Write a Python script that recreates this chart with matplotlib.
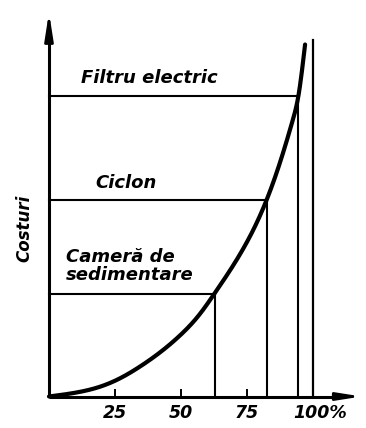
import numpy as np
import matplotlib.pyplot as plt

plt.rcParams['font.family'] = ['Liberation Sans Narrow', 'DejaVu Sans']

# efficiency (%) vs cost curve
efficiency = [0, 10, 19, 26, 34.5, 42, 50, 57, 62.7, 72.3, 82.5, 87.5, 92.4, 94.5, 97]
cost = [0, 3.8, 9.5, 17, 30, 44, 62, 82, 103, 142, 197, 234, 277, 301, 352]

# separators: name, efficiency reached, cost level
separators = ['Cameră de\nsedimentare', 'Ciclon', 'Filtru electric']
sep_efficiency = [62.7, 82.5, 94.5]
sep_cost = [103, 197, 301]

ticks = [25, 50, 75, 100]
tick_labels = ['25', '50', '75', '100%']


def spline(x, y, xs):
    # natural cubic spline
    x = np.asarray(x, float)
    y = np.asarray(y, float)
    n = len(x)
    h = np.diff(x)
    A = np.zeros((n, n))
    b = np.zeros(n)
    A[0, 0] = A[-1, -1] = 1
    for k in range(1, n - 1):
        A[k, k - 1] = h[k - 1]
        A[k, k] = 2 * (h[k - 1] + h[k])
        A[k, k + 1] = h[k]
        b[k] = 6 * ((y[k + 1] - y[k]) / h[k] - (y[k] - y[k - 1]) / h[k - 1])
    M = np.linalg.solve(A, b)
    i = np.clip(np.searchsorted(x, xs) - 1, 0, n - 2)
    a = x[i + 1] - xs
    c = xs - x[i]
    return (M[i] * a**3 / (6 * h[i]) + M[i + 1] * c**3 / (6 * h[i])
            + (y[i] / h[i] - M[i] * h[i] / 6) * a
            + (y[i + 1] / h[i] - M[i + 1] * h[i] / 6) * c)


fig = plt.figure(figsize=(3.66, 4.28), dpi=100)
ax = fig.add_axes([0, 0, 1, 1])
ax.set_xlim(-18.56, 120.08)
ax.set_ylim(-31.5, 396.5)
ax.axis('off')

# axes with arrows
ax.plot([0, 0], [0, 362], color='black', lw=2.2, solid_capstyle='butt')
ax.annotate('', xy=(0, 387), xytext=(0, 358),
            arrowprops=dict(arrowstyle='-|>,head_length=1.6,head_width=0.25',
                            color='black', lw=2))
ax.plot([0, 110], [0, 0], color='black', lw=2.2, solid_capstyle='butt')
ax.annotate('', xy=(119.5, 0), xytext=(107, 0),
            arrowprops=dict(arrowstyle='-|>,head_length=1.4,head_width=0.22',
                            color='black', lw=2))

# tick marks
for t in ticks[:3]:
    ax.plot([t, t], [0, 7], color='black', lw=1.4)
for t, lab in zip(ticks, tick_labels):
    ax.text(t + (2.6 if lab.endswith('%') else 0), -17, lab, ha='center', va='center',
            fontsize=12.5, fontweight='bold', fontstyle='italic')

# 100% limit line
ax.plot([100, 100], [0, 357], color='black', lw=1.6)

# cost curve
xs = np.linspace(0, 97, 400)
ys = spline(efficiency, cost, xs)
ax.plot(xs, ys, color='black', lw=3, solid_capstyle='round')

# separator levels
for name, e, c in zip(separators, sep_efficiency, sep_cost):
    ax.plot([0, e], [c, c], color='black', lw=1.5)
    ax.plot([e, e], [0, c], color='black', lw=1.5)

ax.text(37.9, 318.5, separators[2], ha='center', va='center',
        fontsize=13, fontweight='bold', fontstyle='italic')
ax.text(29, 213.5, separators[1], ha='center', va='center',
        fontsize=13, fontweight='bold', fontstyle='italic')
ax.text(6.5, 130.5, separators[0], ha='left', va='center', linespacing=1.05,
        fontsize=13, fontweight='bold', fontstyle='italic')

ax.text(-9.5, 168.5, 'Costuri', rotation=90, ha='center', va='center',
        fontsize=12, fontweight='bold', fontstyle='italic')

fig.savefig('out.png', dpi=100)
